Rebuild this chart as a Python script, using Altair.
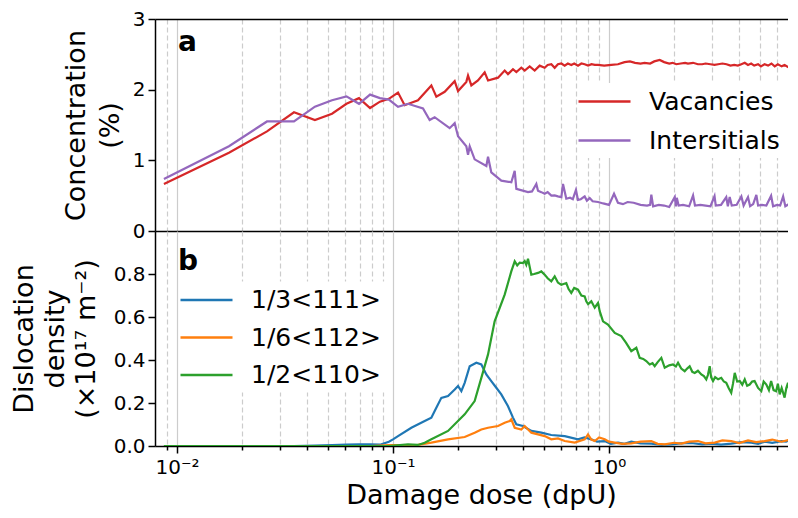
import altair as alt
import pandas as pd

FONT = "DejaVu Sans"

# ---------------- Panel a: concentrations (%) ----------------
vac_dose = [0.0087, 0.0174, 0.0261, 0.0348, 0.0435, 0.0522, 0.0609, 0.0696, 0.0783, 0.0870, 0.0957,
            0.1055, 0.1132, 0.1305, 0.1505, 0.1587, 0.1735, 0.1930, 0.2000, 0.2185, 0.2225, 0.2305,
            0.2474, 0.2657, 0.2754, 0.3063, 0.3289, 0.3406, 0.3593, 0.3724, 0.3927, 0.4071, 0.4293,
            0.4528, 0.4775, 0.5037, 0.52, 0.5408, 0.5604, 0.58, 0.6017, 0.6233, 0.645, 0.6692, 0.69,
            0.7185, 0.745, 0.7715, 0.80, 0.83, 0.86, 0.8894, 0.95, 1.025, 1.10, 1.18, 1.25, 1.32,
            1.40, 1.46, 1.55, 1.62, 1.717, 1.80, 1.90, 1.97, 2.05, 2.15, 2.25, 2.32, 2.45, 2.58,
            2.70, 2.80, 2.95, 3.08, 3.20, 3.35, 3.50, 3.65, 3.80, 3.95, 4.10, 4.25, 4.40, 4.55,
            4.70, 4.90, 5.05, 5.25, 5.45, 5.65, 5.85, 6.05, 6.30, 6.50, 6.75, 7.00, 7.34]
vac_val = [0.666, 1.107, 1.41, 1.68, 1.57, 1.66, 1.80, 1.88, 1.74, 1.83, 1.87,
           1.96, 1.78, 1.85, 2.06, 1.90, 1.97, 2.12, 1.98, 2.11, 2.20, 2.06,
           2.13, 2.245, 2.13, 2.17, 2.27, 2.22, 2.29, 2.25, 2.31, 2.27, 2.33,
           2.27, 2.34, 2.31, 2.35, 2.36, 2.31, 2.36, 2.37, 2.34, 2.37, 2.35, 2.37,
           2.34, 2.37, 2.36, 2.34, 2.36, 2.35, 2.35, 2.34, 2.35, 2.36, 2.39, 2.40, 2.38,
           2.37, 2.38, 2.37, 2.40, 2.42, 2.39, 2.37, 2.38, 2.36, 2.37, 2.38, 2.37, 2.38, 2.36,
           2.36, 2.37, 2.36, 2.35, 2.36, 2.37, 2.36, 2.34, 2.35, 2.34, 2.36, 2.38, 2.35, 2.37,
           2.34, 2.36, 2.33, 2.36, 2.34, 2.37, 2.33, 2.36, 2.33, 2.35, 2.32, 2.35, 2.33]

int_dose = [0.0087, 0.0174, 0.0261, 0.0348, 0.0435, 0.0522, 0.0609, 0.0696, 0.0783, 0.0870, 0.0957,
            0.1055, 0.1173, 0.1377, 0.1478, 0.1559, 0.1829, 0.1930, 0.2000, 0.2185, 0.2225, 0.2265,
            0.2388, 0.2705, 0.2754, 0.2851, 0.3173, 0.3530, 0.3659, 0.3724, 0.4217, 0.44, 0.4608,
            0.4691, 0.4860, 0.5037, 0.52, 0.5408, 0.5604, 0.58, 0.6017, 0.6124, 0.6342, 0.66, 0.68,
            0.703, 0.7185, 0.74, 0.7715, 0.79, 0.814, 0.84, 0.8894, 0.94, 1.00, 1.055, 1.10, 1.16,
            1.22, 1.30, 1.40, 1.50, 1.55, 1.57, 1.60, 1.70, 1.80, 1.90, 2.016, 2.04, 2.06, 2.10,
            2.20, 2.35, 2.45, 2.50, 2.65, 2.80, 2.95, 3.08, 3.12, 3.30, 3.49, 3.55, 3.62, 3.70,
            3.90, 4.10, 4.20, 4.40, 4.50, 4.65, 4.81, 4.90, 5.10, 5.35, 5.63, 5.75, 6.00, 6.20,
            6.40, 6.55, 6.80, 7.10, 7.20, 7.34]
int_val = [0.735, 1.20, 1.55, 1.55, 1.76, 1.85, 1.905, 1.80, 1.93, 1.88, 1.86,
           1.757, 1.80, 1.734, 1.57, 1.61, 1.455, 1.525, 1.34, 1.20, 1.08, 1.20,
           1.014, 0.92, 1.05, 0.83, 0.713, 0.69, 0.85, 0.596, 0.55, 0.56, 0.666,
           0.57, 0.55, 0.526, 0.55, 0.50, 0.504, 0.49, 0.48, 0.666, 0.457, 0.47, 0.45,
           0.58, 0.44, 0.45, 0.49, 0.43, 0.466, 0.42, 0.41, 0.39, 0.37, 0.527, 0.40, 0.38,
           0.41, 0.40, 0.37, 0.36, 0.37, 0.513, 0.35, 0.37, 0.36, 0.34, 0.48, 0.35, 0.47, 0.36,
           0.37, 0.35, 0.504, 0.36, 0.37, 0.36, 0.35, 0.494, 0.36, 0.37, 0.48, 0.35, 0.48, 0.36,
           0.37, 0.49, 0.36, 0.48, 0.35, 0.38, 0.51, 0.36, 0.37, 0.36, 0.50, 0.35, 0.37, 0.36,
           0.49, 0.35, 0.38, 0.47, 0.36, 0.45]

# ---------------- Panel b: dislocation density ----------------
b111_dose = [0.0087, 0.0174, 0.0261, 0.0348, 0.0435, 0.0522, 0.0609, 0.0696, 0.0783, 0.0870, 0.0957,
             0.1000, 0.1055, 0.1216, 0.1402, 0.1505, 0.1587, 0.1674, 0.1798, 0.1931, 0.2000, 0.2072,
             0.2147, 0.2265, 0.2432, 0.2564, 0.2704, 0.2851, 0.3008, 0.3172, 0.3404, 0.3593, 0.3722,
             0.3996, 0.4369, 0.4860, 0.5405, 0.6237, 0.7186, 0.77, 0.8282, 0.88, 0.9552, 1.02,
             1.1007, 1.18, 1.268, 1.40, 1.570, 1.75, 1.944, 2.15, 2.404, 2.7, 2.976, 3.3, 3.683,
             4.1, 4.559, 4.9, 5.259, 5.7, 6.276, 6.6, 6.982, 7.34]
b111_val = [0.0, 0.0, 0.0, 0.0, 0.002, 0.004, 0.006, 0.008, 0.008, 0.006, 0.02,
            0.031, 0.046, 0.085, 0.116, 0.132, 0.178, 0.224, 0.232, 0.263, 0.279, 0.255,
            0.294, 0.371, 0.387, 0.379, 0.333, 0.302, 0.271, 0.240, 0.186, 0.132, 0.101,
            0.093, 0.070, 0.062, 0.051, 0.046, 0.031, 0.04, 0.031, 0.02, 0.023, 0.01,
            0.0155, 0.01, 0.020, 0.012, 0.011, 0.005, 0.008, 0.012, 0.014, 0.008, 0.011, 0.006, 0.011,
            0.018, 0.0155, 0.01, 0.020, 0.015, 0.023, 0.02, 0.031, 0.036]

b112_dose = [0.0087, 0.0174, 0.0261, 0.0348, 0.0435, 0.0522, 0.0609, 0.0696, 0.0783, 0.0870, 0.0957,
             0.1305, 0.1505, 0.1798, 0.2147, 0.2388, 0.2564, 0.2754, 0.3063, 0.3289, 0.3469, 0.3529,
             0.3660, 0.3926, 0.4070, 0.4369, 0.4691, 0.5038, 0.5405, 0.5807, 0.6237, 0.6938, 0.7717,
             0.7994, 0.8286, 0.8586, 0.90, 0.9552, 1.0, 1.0627, 1.15, 1.268, 1.40, 1.570, 1.68,
             1.811, 2.0, 2.161, 2.35, 2.583, 2.8, 3.086, 3.35, 3.683, 4.0, 4.401, 4.8, 5.259, 5.7,
             6.276, 6.8, 7.34]
b112_val = [0.0, 0.0, 0.0, 0.0, 0.0, 0.0, 0.0, 0.0, 0.0, 0.002, 0.004,
            0.005, 0.0155, 0.031, 0.042, 0.062, 0.077, 0.085, 0.093, 0.108, 0.116, 0.124,
            0.085, 0.077, 0.093, 0.062, 0.054, 0.046, 0.031, 0.035, 0.023, 0.0155, 0.031,
            0.054, 0.03, 0.023, 0.04, 0.031, 0.02, 0.0155, 0.01, 0.012, 0.02, 0.023, 0.01,
            0.008, 0.015, 0.011, 0.02, 0.023, 0.012, 0.0155, 0.026, 0.023, 0.014, 0.026, 0.018, 0.023, 0.03,
            0.020, 0.028, 0.023]

b110_dose = [0.0087, 0.0174, 0.0261, 0.0348, 0.0435, 0.0522, 0.0609, 0.0696, 0.0783, 0.0870, 0.0957,
             0.1173, 0.1305, 0.1402, 0.1505, 0.1798, 0.2147, 0.2388, 0.2564, 0.2754, 0.2955, 0.3289,
             0.3529, 0.3660, 0.3760, 0.3860, 0.3996, 0.4070, 0.4140, 0.4217, 0.4369, 0.45, 0.4691,
             0.4860, 0.5038, 0.52, 0.5405, 0.5604, 0.58, 0.6014, 0.6342, 0.65, 0.6690, 0.69, 0.7186,
             0.745, 0.7717, 0.785, 0.80, 0.8282, 0.8586, 0.8894, 0.9056, 0.9380, 0.989, 1.063, 1.14,
             1.20, 1.268, 1.338, 1.387, 1.44, 1.488, 1.543, 1.59, 1.628, 1.68, 1.747, 1.811, 1.90,
             1.978, 2.04, 2.087, 2.16, 2.241, 2.30, 2.363, 2.43, 2.494, 2.58, 2.675, 2.75, 2.82,
             2.87, 2.925, 2.97, 3.03, 3.10, 3.20, 3.31, 3.40, 3.49, 3.58, 3.68, 3.75, 3.82, 3.92,
             4.03, 4.14, 4.25, 4.36, 4.48, 4.60, 4.72, 4.90, 5.07, 5.20, 5.35, 5.50, 5.63, 5.78,
             5.94, 6.05, 6.17, 6.30, 6.5, 6.62, 6.74, 6.86, 6.98, 7.12, 7.29, 7.34]
b110_val = [0.0, 0.0, 0.0, 0.0, 0.0, 0.0, 0.0, 0.0, 0.0, 0.0, 0.0,
            0.008, 0.005, 0.0155, 0.031, 0.070, 0.147, 0.209, 0.317, 0.426, 0.580, 0.704,
            0.812, 0.859, 0.84, 0.853, 0.851, 0.86, 0.843, 0.871, 0.797, 0.80, 0.805,
            0.812, 0.797, 0.78, 0.766, 0.789, 0.76, 0.750, 0.758, 0.73, 0.712, 0.735, 0.727,
            0.70, 0.696, 0.673, 0.66, 0.673, 0.643, 0.665, 0.627, 0.58, 0.565, 0.526, 0.511,
            0.48, 0.441, 0.457, 0.41, 0.405, 0.395, 0.379, 0.385, 0.371, 0.39, 0.41, 0.364, 0.375,
            0.379, 0.37, 0.387, 0.36, 0.348, 0.36, 0.371, 0.345, 0.340, 0.35, 0.333, 0.325, 0.310,
            0.33, 0.371, 0.32, 0.302, 0.32, 0.31, 0.317, 0.30, 0.294, 0.27, 0.248, 0.29, 0.340, 0.30,
            0.302, 0.285, 0.310, 0.28, 0.286, 0.30, 0.302, 0.27, 0.255, 0.30, 0.286, 0.26, 0.302, 0.26,
            0.255, 0.29, 0.240, 0.27, 0.225, 0.27, 0.294, 0.25, 0.271, 0.24, 0.294, 0.28]

# ---------------- axis ticks ----------------
major_ticks = [0.01, 0.1, 1]
minor_ticks = [0.009, 0.02, 0.03, 0.04, 0.05, 0.06, 0.07, 0.08, 0.09,
               0.2, 0.3, 0.4, 0.5, 0.6, 0.7, 0.8, 0.9, 2, 3, 4, 5, 6]
x_ticks = sorted(major_ticks + minor_ticks)

top_names = ["Vacancies", "Intersitials"]
top_colors = ["#d62728", "#9467bd"]
bot_names = ["1/3<111>", "1/6<112>", "1/2<110>"]
bot_colors = ["#1f77b4", "#ff7f0e", "#2ca02c"]


def frame(name, d, v):
    return pd.DataFrame({"dose": d, "value": v, "series": name})


top_df = pd.concat([frame(top_names[0], vac_dose, vac_val),
                    frame(top_names[1], int_dose, int_val)], ignore_index=True)
bot_df = pd.concat([frame(bot_names[0], b111_dose, b111_val),
                    frame(bot_names[1], b112_dose, b112_val),
                    frame(bot_names[2], b110_dose, b110_val)], ignore_index=True)

MAJOR = "abs(log(datum.value)/LN10 - round(log(datum.value)/LN10)) < 0.001"
LABELS = ("abs(datum.value-0.01)<1e-7 ? '10\u207b\u00b2' : "
          "abs(datum.value-0.1)<1e-7 ? '10\u207b\u00b9' : "
          "abs(datum.value-1)<1e-7 ? '10\u2070' : ''")

x_scale = alt.Scale(type="log", domain=[0.00791, 6.74], nice=False)
W = 633
H_TOP = 212
H_BOT = 215

grid_kw = dict(
    grid=True,
    values=x_ticks,
    gridColor="#cccccc",
    gridWidth=1.2,
    gridDash={"condition": {"test": MAJOR, "value": []}, "value": [5, 3]},
)

x_top = alt.X("dose:Q", scale=x_scale,
              axis=alt.Axis(ticks=False, labels=False, domain=True, title=None, **grid_kw))
x_top_edge = alt.X("dose:Q", scale=x_scale,
                   axis=alt.Axis(orient="top", ticks=False, labels=False, domain=True,
                                 grid=False, title=None))
x_bot = alt.X("dose:Q", scale=x_scale,
              axis=alt.Axis(title="Damage dose (dpU)", labelExpr=LABELS,
                            tickSize={"condition": {"test": MAJOR, "value": 7}, "value": 4},
                            labelPadding=4, titlePadding=5, titleX=326, titleAlign="center",
                            **grid_kw))

leg_common = dict(title=None, symbolType="M-2,0H2", symbolSize=676, symbolStrokeWidth=2.6,
                  labelFontSize=25, labelFont=FONT, labelColor="black", labelOffset=30,
                  fillColor="white", padding=4, orient="none")

top_lines = alt.Chart(top_df).mark_line(strokeWidth=2.2, clip=True).encode(
    x=x_top,
    y=alt.Y("value:Q", scale=alt.Scale(domain=[0, 3], nice=False),
            axis=alt.Axis(values=[0, 1, 2, 3], format="d", grid=False, titlePadding=8,
                          titleLineHeight=34, title=["Concentration", "(%)"])),
    color=alt.Color("series:N", sort=top_names,
                    scale=alt.Scale(domain=top_names, range=top_colors),
                    legend=alt.Legend(legendX=431, legendY=64, rowPadding=11, **leg_common)),
    order=alt.Order("dose:Q"),
)
top_label = alt.Chart(pd.DataFrame({"dose": [0.0101], "value": [2.55], "t": ["a"]})).mark_text(
    align="left", baseline="alphabetic", fontSize=28, fontWeight="bold", font=FONT, color="black"
).encode(x=x_top_edge, y=alt.Y("value:Q"), text="t:N")
top = alt.layer(top_lines, top_label).resolve_axis(x="independent").properties(
    width=W, height=H_TOP)

bot_lines = alt.Chart(bot_df).mark_line(strokeWidth=2.2, clip=True).encode(
    x=x_bot,
    y=alt.Y("value:Q", scale=alt.Scale(domain=[0, 1.0], nice=False),
            axis=alt.Axis(values=[0, 0.2, 0.4, 0.6, 0.8], format=".1f", grid=False, titlePadding=13,
                          titleLineHeight=31,
                          title=["Dislocation", "density", "(\u00d710\u00b9\u2077 m\u207b\u00b2)"])),
    color=alt.Color("series:N", sort=bot_names,
                    scale=alt.Scale(domain=bot_names, range=bot_colors),
                    legend=alt.Legend(legendX=33, legendY=50.5, rowPadding=9.5, **leg_common)),
    order=alt.Order("dose:Q"),
)
bot_label = alt.Chart(pd.DataFrame({"dose": [0.0101], "value": [0.82], "t": ["b"]})).mark_text(
    align="left", baseline="alphabetic", fontSize=28, fontWeight="bold", font=FONT, color="black"
).encode(x=alt.X("dose:Q", scale=x_scale), y=alt.Y("value:Q"), text="t:N")
bot = alt.layer(bot_lines, bot_label).properties(width=W, height=H_BOT)

chart = alt.vconcat(top, bot, spacing=0, bounds="flush").resolve_scale(
    color="independent"
).resolve_legend(
    color="independent"
).properties(
    padding={"left": 2, "top": 1, "right": 0, "bottom": 2}
).configure_view(strokeWidth=0).configure_axis(
    labelFont=FONT, titleFont=FONT, labelFontSize=20, titleFontSize=27,
    labelColor="black", titleColor="black", titleFontWeight="normal",
    domainColor="black", domainWidth=1.5, tickColor="black", tickWidth=1.5, tickSize=7,
    labelPadding=3,
).configure_text(font=FONT)

chart.save("out.html", embed_options={"renderer": "svg", "actions": False})
